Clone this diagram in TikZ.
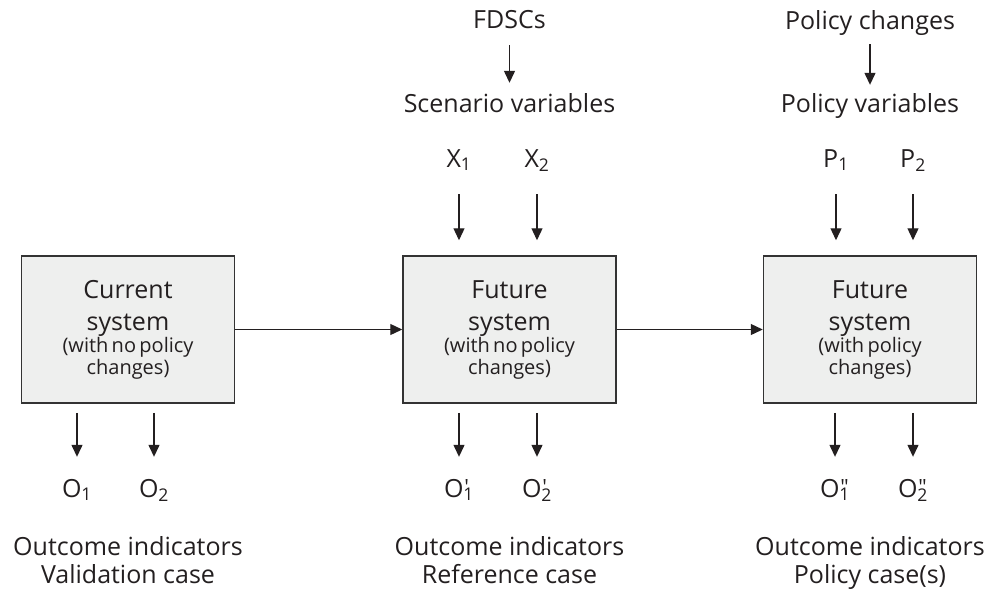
\documentclass[tikz,border=0pt]{standalone}
\usepackage{fontspec}
\setmainfont{Open Sans}
\usetikzlibrary{arrows.meta,positioning}

\definecolor{boxfill}{RGB}{238,239,238}
\definecolor{boxline}{RGB}{51,51,51}
\definecolor{ink}{RGB}{35,31,32}

\newcommand{\bigtxt}{\fontsize{25}{32}\selectfont}
\newcommand{\smalltxt}{\fontsize{20}{22}\selectfont}
\newcommand{\lbltxt}{\fontsize{25}{28}\selectfont}
\newcommand{\sysbody}[2]{{\bigtxt #1\par system\par}{\smalltxt (#2\par changes)\par}}
\newcommand{\outsym}[2]{O\rlap{\kern1pt\raisebox{3pt}{\fontsize{21}{21}\selectfont #1}}\textsubscript{#2}}

\begin{document}
\begin{tikzpicture}[
  x=1pt, y=1pt,
  sysbox/.style={draw=boxline, fill=boxfill, line width=1.5pt, text=ink,
    minimum width=213pt, minimum height=147pt, text width=205pt,
    align=center, inner sep=0pt},
  lbl/.style={font=\lbltxt, text=ink, inner sep=0pt, text height=18pt, text depth=6pt},
  outlbl/.style={font=\lbltxt, text=ink, inner sep=0pt, align=center},
  link/.style={->, line width=1.3pt, draw=ink},
  node distance=167pt,
  >={Triangle[length=12pt,width=11pt]}
]
\useasboundingbox (0,0) rectangle (991,-595);

% the three systems
\node[sysbox] (cur) at (128,-329.5) {\sysbody{Current}{with no policy}};
\node[sysbox, right=of cur] (fut) {\sysbody{Future}{with no policy}};
\node[sysbox, right=146pt of fut] (pol) {\sysbody{Future}{with policy}};
\draw[link] (cur) -- (fut);
\draw[link] (fut) -- (pol);

% scenario and policy inputs
\node[lbl, anchor=base] (fdsc) at (fut |- 0,-28) {FDSCs};
\node[lbl, anchor=base] (scen) at (fut |- 0,-112) {Scenario variables};
\node[lbl, anchor=base] (pchg) at (pol |- 0,-29) {Policy changes};
\node[lbl, anchor=base] (pvar) at (pol |- 0,-112) {Policy variables};
\draw[link, shorten <=11pt, shorten >=11pt] (fdsc) -- (scen);
\draw[link, shorten <=9pt, shorten >=9pt] (pchg) -- (pvar);

\node[lbl, anchor=base] (x1) at (459,-167) {X\textsubscript{1}};
\node[lbl, anchor=base] (x2) at (537,-167) {X\textsubscript{2}};
\node[lbl, anchor=base] (p1) at (836,-167) {P\textsubscript{1}};
\node[lbl, anchor=base] (p2) at (913,-167) {P\textsubscript{2}};
\draw[link, shorten <=21pt, shorten >=15pt] (x1) -- (x1 |- fut.north);
\draw[link, shorten <=21pt, shorten >=15pt] (x2) -- (x2 |- fut.north);
\draw[link, shorten <=21pt, shorten >=15pt] (p1) -- (p1 |- pol.north);
\draw[link, shorten <=21pt, shorten >=15pt] (p2) -- (p2 |- pol.north);

% outcome indicators
\node[lbl, anchor=base] (o1) at (77,-497) {\outsym{}{1}};
\node[lbl, anchor=base] (o2) at (154,-497) {\outsym{}{2}};
\node[lbl, anchor=base] (or1) at (459,-497) {\outsym{\textquotesingle}{1}};
\node[lbl, anchor=base] (or2) at (537,-497) {\outsym{\textquotesingle}{2}};
\node[lbl, anchor=base] (op1) at (835,-497) {\outsym{\textquotedbl}{1}};
\node[lbl, anchor=base] (op2) at (913,-497) {\outsym{\textquotedbl}{2}};
\draw[link, shorten <=9pt, shorten >=22pt] (o1 |- cur.south) -- (o1);
\draw[link, shorten <=9pt, shorten >=22pt] (o2 |- cur.south) -- (o2);
\draw[link, shorten <=9pt, shorten >=22pt] (or1 |- fut.south) -- (or1);
\draw[link, shorten <=9pt, shorten >=22pt] (or2 |- fut.south) -- (or2);
\draw[link, shorten <=9pt, shorten >=22pt] (op1 |- pol.south) -- (op1);
\draw[link, shorten <=9pt, shorten >=22pt] (op2 |- pol.south) -- (op2);

\node[outlbl, anchor=north] (vcase) at (cur |- 0,-536) {Outcome indicators\\Validation case};
\node[outlbl, anchor=north] (rcase) at (fut |- 0,-536) {Outcome indicators\\Reference case};
\node[outlbl, anchor=north] (pcase) at (pol |- 0,-536) {Outcome indicators\\Policy case(s)};
\end{tikzpicture}
\end{document}
